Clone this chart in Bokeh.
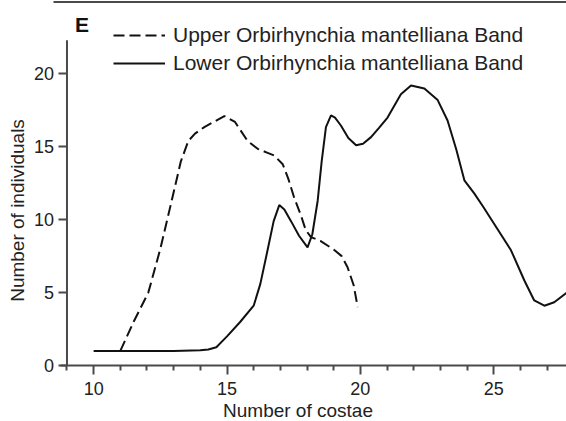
from math import pi
from bokeh.plotting import figure
from bokeh.models import Range1d, FixedTicker, Legend, LegendItem, Label
from bokeh.embed import file_html
from bokeh.resources import INLINE

# Upper Orbirhynchia mantelliana Band
upper_x = [11.0, 11.5, 12.05, 12.5, 12.9, 13.27, 13.55, 13.8, 14.15, 14.5, 14.9, 15.3,
           15.77, 16.15, 16.5, 16.77, 17.09, 17.3, 17.52, 17.77, 17.95, 18.15, 18.5,
           19.0, 19.3, 19.52, 19.75, 19.9]
upper_y = [1.0, 3.0, 5.0, 8.0, 11.1, 14.0, 15.4, 15.9, 16.35, 16.7, 17.1, 16.7,
           15.4, 14.86, 14.6, 14.4, 13.8, 12.8, 11.5, 10.3, 9.3, 8.8, 8.55,
           7.95, 7.5, 6.74, 5.5, 4.0]

# Lower Orbirhynchia mantelliana Band
lower_x = [10.0, 11.0, 12.0, 13.0, 14.0, 14.3, 14.6, 15.0, 15.5, 16.0, 16.25, 16.52,
           16.75, 16.96, 17.15, 17.4, 17.7, 18.02, 18.2, 18.4, 18.55, 18.71, 18.9,
           19.05, 19.27, 19.55, 19.84, 20.1, 20.4, 20.7, 21.02, 21.3, 21.52, 21.9,
           22.4, 22.9, 23.27, 23.6, 23.9, 24.27, 24.6, 25.02, 25.65, 26.15, 26.52,
           26.9, 27.27, 27.75]
lower_y = [1.0, 1.0, 1.0, 1.0, 1.05, 1.1, 1.25, 2.0, 3.0, 4.1, 5.6, 7.9,
           9.9, 11.0, 10.7, 9.9, 8.9, 8.1, 9.0, 11.3, 14.0, 16.35, 17.15,
           17.0, 16.46, 15.6, 15.1, 15.2, 15.66, 16.3, 17.0, 17.9, 18.6, 19.2,
           19.0, 18.2, 16.8, 14.8, 12.7, 11.8, 10.9, 9.7, 7.9, 5.83, 4.46,
           4.1, 4.34, 5.0]

x_major_ticks = [10, 15, 20, 25]
x_minor_ticks = [9, 11, 12, 13, 14, 16, 17, 18, 19, 21, 22, 23, 24, 26, 27]
y_major_ticks = [0, 5, 10, 15, 20]

series_labels = ["Upper Orbirhynchia mantelliana Band", "Lower Orbirhynchia mantelliana Band"]
x_title = "Number of costae"
y_title = "Number of individuals"
panel_letter = "E"

FONT = "Liberation Sans"
AXIS_COLOR = "#4a4a4a"
TEXT_COLOR = "#222222"
LINE_COLOR = "#111111"

X0, X1 = 6.507, 27.73      # visible x window (axis line starts at 8.757)
Y0, Y1 = -3.84, 25.03      # visible y window (axis drawn from 0 to 22.3)

p = figure(width=566, height=421,
           x_range=Range1d(X0, X1), y_range=Range1d(Y0, Y1),
           output_backend="svg", toolbar_location=None,
           min_border_left=0, min_border_right=0, min_border_top=0, min_border_bottom=0)
p.outline_line_color = None
p.xgrid.visible = False
p.ygrid.visible = False
p.background_fill_color = "white"
p.border_fill_color = "white"

# x axis drawn at y = 0
xa = p.xaxis[0]
xa.fixed_location = 0
xa.ticker = FixedTicker(ticks=x_major_ticks, minor_ticks=x_minor_ticks)
xa.axis_line_color = None
xa.major_tick_line_color = AXIS_COLOR
xa.major_tick_line_width = 2
xa.major_tick_in = 0
xa.major_tick_out = 9
xa.minor_tick_line_color = AXIS_COLOR
xa.minor_tick_line_width = 2
xa.minor_tick_in = 0
xa.minor_tick_out = 5
xa.major_label_text_font = FONT
xa.major_label_text_font_size = "18px"
xa.major_label_text_color = TEXT_COLOR
xa.major_label_standoff = 7

# y axis drawn at x = 9
ya = p.yaxis[0]
ya.fixed_location = 9
ya.ticker = FixedTicker(ticks=y_major_ticks, minor_ticks=[])
ya.axis_line_color = None
ya.major_tick_line_color = AXIS_COLOR
ya.major_tick_line_width = 2
ya.major_tick_in = 0
ya.major_tick_out = 8
ya.minor_tick_line_color = None
ya.major_label_text_font = FONT
ya.major_label_text_font_size = "18px"
ya.major_label_text_color = TEXT_COLOR
ya.major_label_standoff = 5

# axis lines and the top border line
p.segment(x0=[8.757, 9.0, 8.494], y0=[0.0, 0.0, 24.93],
          x1=[27.73, 9.0, 27.73], y1=[0.0, 22.3, 24.93],
          line_color=AXIS_COLOR, line_width=2)

r_up = p.line(upper_x, upper_y, line_color=LINE_COLOR, line_width=2, line_dash="11 5")
r_lo = p.line(lower_x, lower_y, line_color=LINE_COLOR, line_width=2)

legend = Legend(items=[LegendItem(label=series_labels[0], renderers=[r_up]),
                       LegendItem(label=series_labels[1], renderers=[r_lo])],
                location=(113, 345))
legend.border_line_color = None
legend.background_fill_alpha = 0
legend.padding = 0
legend.margin = 0
legend.spacing = 2
legend.glyph_width = 52
legend.glyph_height = 26
legend.label_height = 26
legend.label_standoff = 8
legend.label_text_font = FONT
legend.label_text_font_size = "21px"
legend.label_text_color = TEXT_COLOR
p.add_layout(legend, "center")

p.add_layout(Label(x=9.3, y=23.39, text=panel_letter, text_font=FONT, text_font_style="bold",
                   text_font_size="21px", text_color="#111111",
                   text_align="left", text_baseline="alphabetic"))
p.add_layout(Label(x=17.662, y=-3.09, text=x_title, text_font=FONT, text_font_size="19px",
                   text_color=TEXT_COLOR, text_align="center", text_baseline="alphabetic"))
p.add_layout(Label(x=7.156, y=10.63, text=y_title, text_font=FONT, text_font_size="19px",
                   text_color=TEXT_COLOR, text_align="center", text_baseline="alphabetic",
                   angle=pi / 2))

open("out.html", "w").write(file_html(p, INLINE))
